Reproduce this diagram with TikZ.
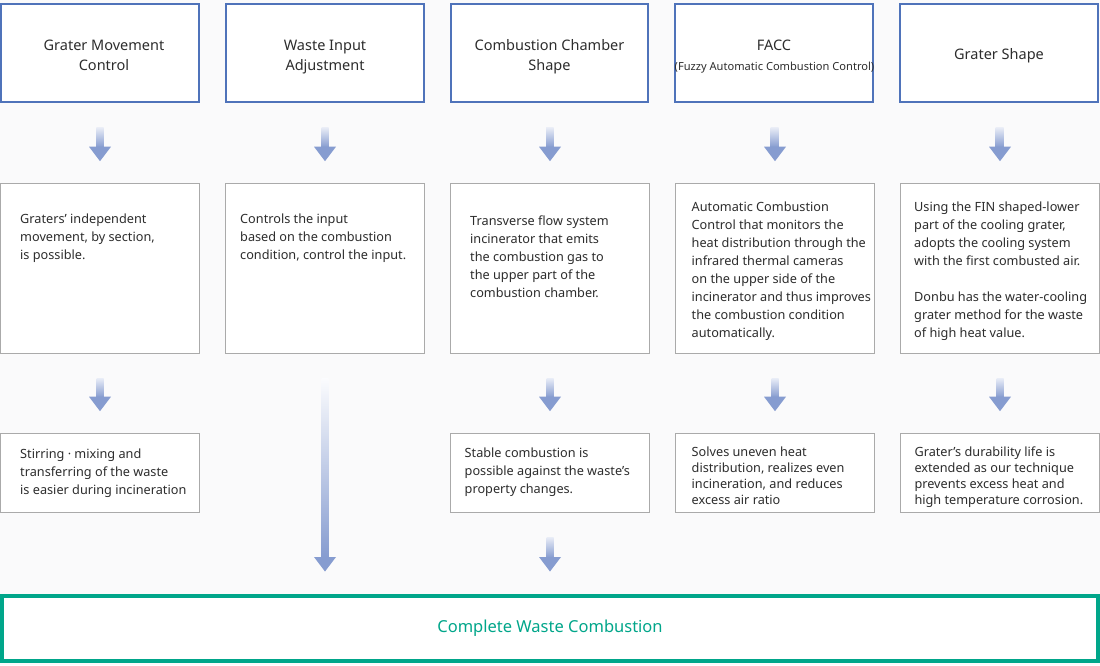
\documentclass[tikz,border=0pt]{standalone}
\usepackage{fontspec}
\setmainfont{Noto Sans}
\usetikzlibrary{calc}
\definecolor{bg}{RGB}{250,250,251}
\definecolor{topblue}{RGB}{79,115,186}
\definecolor{graybd}{RGB}{170,170,170}
\definecolor{tealc}{RGB}{0,166,138}
\definecolor{txt}{RGB}{45,45,45}
\definecolor{arrblue}{RGB}{134,156,208}
\newcommand\garrow[3]{%
  \shade[top color=#3, bottom color=arrblue] ($(#1)+(-3.5,0)$) rectangle ($(#2)+(3.5,-14)$);
  \fill[arrblue] ($(#2)+(-11,-14.5)$) -- ($(#2)+(11,-14.5)$) -- (#2) -- cycle;}
\begin{document}
\begin{tikzpicture}[x=1pt,y=-1pt,
  topbox/.style={draw=topblue, line width=2pt, fill=white, minimum width=197.5pt, minimum height=98pt, anchor=north west, inner sep=0, outer sep=0},
  midbox/.style={draw=graybd, line width=1pt, fill=white, minimum width=199pt, minimum height=170pt, anchor=north west, inner sep=0, outer sep=0},
  lowbox/.style={draw=graybd, line width=1pt, fill=white, minimum width=199pt, minimum height=79pt, anchor=north west, inner sep=0, outer sep=0},
  ttl/.style={anchor=base, inner sep=0, text=txt, font=\fontsize{14.5}{19.7}\selectfont},
  body/.style={anchor=base west, inner sep=0, text=txt, font=\fontsize{12.7}{18}\selectfont},
  bodyb/.style={anchor=base west, inner sep=0, text=txt, font=\fontsize{12.7}{16}\selectfont}]
\useasboundingbox (0,0) rectangle (1100,665);
\fill[bg] (0,0) rectangle (1100,665);
% top boxes
\node[topbox] (t1) at (1,4.3) {};
\node[topbox] (t2) at (226.3,4.3) {};
\node[topbox] (t3) at (450.8,4.3) {};
\node[topbox] (t4) at (675.3,4.3) {};
\node[topbox] (t5) at (900.3,4.3) {};
\node[ttl] (tt1) at (104,50.7) {\parbox[t]{190pt}{\centering Grater Movement\\Control}};
\node[ttl] (tt2) at (325,50.7) {\parbox[t]{190pt}{\centering Waste Input\\Adjustment}};
\node[ttl] (tt3) at (549.5,50.7) {\parbox[t]{190pt}{\centering Combustion Chamber\\Shape}};
\node[ttl] (tt4) at (774,50.7) {FACC};
\node[anchor=base, inner sep=0, text=txt, font=\fontsize{11.1}{12}\selectfont] (tt4b) at (774.5,70) {(Fuzzy Automatic Combustion Control)};
\node[ttl] (tt5) at (999,59.3) {Grater Shape};
% middle boxes
\node[midbox] (m1) at (0.5,183.5) {};
\node[midbox] (m2) at (225.5,183.5) {};
\node[midbox] (m3) at (450.5,183.5) {};
\node[midbox] (m4) at (675.5,183.5) {};
\node[midbox] (m5) at (900.5,183.5) {};
\node[body] (mt1) at (20,223.5) {\parbox[t]{175pt}{Graters’ independent\\movement, by section,\\is possible.}};
\node[body] (mt2) at (240,223.5) {\parbox[t]{175pt}{Controls the input\\based on the combustion\\condition, control the input.}};
\node[body] (mt3) at (470,225) {\parbox[t]{175pt}{Transverse flow system\\incinerator that emits\\the combustion gas to\\the upper part of the\\combustion chamber.}};
\node[body] (mt4) at (691.5,211.8) {\parbox[t]{185pt}{Automatic Combustion\\Control that monitors the\\heat distribution through the\\infrared thermal cameras\\on the upper side of the\\incinerator and thus improves\\the combustion condition\\automatically.}};
\node[body] (mt5) at (914,211) {\parbox[t]{185pt}{Using the FIN shaped-lower\\part of the cooling grater,\\adopts the cooling system\\with the first combusted air.\\[18pt]Donbu has the water-cooling\\grater method for the waste\\of high heat value.}};
% lower boxes
\node[lowbox] (b1) at (0.5,433.5) {};
\node[lowbox] (b3) at (450.5,433.5) {};
\node[lowbox] (b4) at (675.5,433.5) {};
\node[lowbox] (b5) at (900.5,433.5) {};
\node[body] (bt1) at (20,458.5) {\parbox[t]{178pt}{Stirring · mixing and\\transferring of the waste\\is easier during incineration}};
\node[body] (bt3) at (464.5,457.3) {\parbox[t]{180pt}{Stable combustion is\\possible against the waste’s\\property changes.}};
\node[bodyb] (bt4) at (691.5,456.5) {\parbox[t]{180pt}{Solves uneven heat\\distribution, realizes even\\incineration, and reduces\\excess air ratio}};
\node[bodyb] (bt5) at (914.3,456.5) {\parbox[t]{180pt}{Grater’s durability life is\\extended as our technique\\prevents excess heat and\\high temperature corrosion.}};
% final box
\node[draw=tealc, line width=4pt, fill=white, minimum width=1096pt, minimum height=65.5pt, anchor=north west, inner sep=0, outer sep=0] (fin) at (2,595.5) {};
\node[anchor=base, inner sep=0, text=tealc, font=\fontsize{16.5}{20}\selectfont] (fint) at (550,632.7) {Complete Waste Combustion};
% arrows
\foreach \i in {1,...,5}{
  \coordinate (s\i) at ($(t\i.south)+(0,25)$);
  \coordinate (e\i) at ($(m\i.north)+(0,-22.3)$);
  \garrow{s\i}{e\i}{arrblue!18}
}
\foreach \i in {1,3,4,5}{
  \coordinate (r\i) at ($(m\i.south)+(0,24.5)$);
  \coordinate (f\i) at ($(b\i.north)+(0,-22.3)$);
  \garrow{r\i}{f\i}{arrblue!18}
}
\coordinate (r2) at ($(m2.south)+(0,24.5)$);
\coordinate (c2) at (m2.south |- fin.north);
\coordinate (f2) at ($(c2)+(0,-24)$);
\garrow{r2}{f2}{arrblue!3}
\coordinate (r6) at ($(b3.south)+(0,24.5)$);
\coordinate (c3) at (b3.south |- fin.north);
\coordinate (f6) at ($(c3)+(0,-24)$);
\garrow{r6}{f6}{arrblue!18}
\end{tikzpicture}
\end{document}
